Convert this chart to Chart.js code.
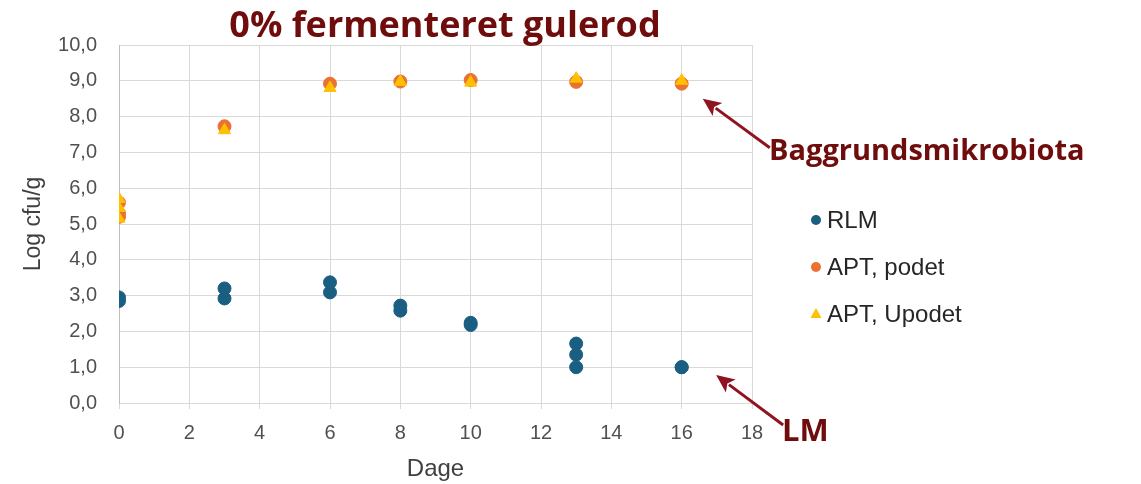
<!DOCTYPE html>
<html>
<head>
<meta charset="utf-8">
<script src="https://cdn.jsdelivr.net/npm/chart.js@4"></script>
<style>
  html, body { margin: 0; padding: 0; background: #fff; }
  #wrap { width: 1141px; height: 484px; }
</style>
</head>
<body>
<div id="wrap"><canvas id="chart" width="1141" height="484"></canvas></div>
<script>
// data (day, log cfu/g)
const rlmDays = [0, 0, 3, 3, 6, 6, 8, 8, 10, 10, 13, 13, 13, 16, 16]
const rlmValues = [2.95, 2.85, 3.2, 2.92, 3.37, 3.09, 2.72, 2.58, 2.24, 2.18, 1.66, 1.35, 1.0, 1.0, 1.0]

const podetDays = [0, 0, 0, 3, 6, 8, 10, 13, 16]
const podetValues = [5.6, 5.3, 5.2, 7.73, 8.92, 8.98, 9.02, 8.97, 8.92]

const upodetDays = [0, 0, 0, 3, 6, 8, 10, 13, 16]
const upodetValues = [5.7, 5.45, 5.15, 7.62, 8.8, 8.97, 8.95, 9.06, 9.0]

const seriesLabels = ["RLM", "APT, podet", "APT, Upodet"]
const xTicks = [0, 2, 4, 6, 8, 10, 12, 14, 16, 18]
const yTicks = [0, 1, 2, 3, 4, 5, 6, 7, 8, 9, 10]

const titleText = "0% fermenteret gulerod"
const darkRed = "#6f0c0c"
const arrowRed = "#8e1420"
const tickColor = "#505050"
const gridColor = "#d9d9d9"
const fontFam = '"Liberation Sans", Arial, sans-serif'

function pts(xs, ys) {
    return xs.map((x, i) => ({x: x, y: ys[i]}))
}

// title, legend and arrows drawn on the canvas
const extras = {
    id: 'extras',
    afterDraw(chart) {
        const ctx = chart.ctx
        const xs = chart.scales.x
        const ys = chart.scales.y
        ctx.save()

        ctx.fillStyle = darkRed
        ctx.textAlign = 'center'
        ctx.textBaseline = 'middle'
        ctx.font = 'bold 36px "Open Sans", "Noto Sans", sans-serif'
        ctx.fillText(titleText, 445, 27)

        // legend
        ctx.textAlign = 'left'
        ctx.font = '24px ' + fontFam
        const legendY = [220, 267, 314]
        chart.data.datasets.forEach((ds, i) => {
            const cx = 816, cy = legendY[i]
            ctx.fillStyle = ds.backgroundColor
            ctx.beginPath()
            if (ds.pointStyle === 'triangle') {
                ctx.moveTo(cx, cy - 6)
                ctx.lineTo(cx + 5.5, cy + 4)
                ctx.lineTo(cx - 5.5, cy + 4)
                ctx.closePath()
            } else {
                ctx.arc(cx, cy, 5, 0, Math.PI * 2)
            }
            ctx.fill()
            ctx.fillStyle = '#262626'
            ctx.fillText(ds.label, 827, cy + 1)
        })

        // annotation arrows
        function arrow(x1, y1, x2, y2) {
            const a = Math.atan2(y2 - y1, x2 - x1)
            const len = 20, w = 0.42
            ctx.strokeStyle = arrowRed
            ctx.fillStyle = arrowRed
            ctx.lineWidth = 3
            ctx.beginPath()
            ctx.moveTo(x1, y1)
            ctx.lineTo(x2 - Math.cos(a) * len * 0.8, y2 - Math.sin(a) * len * 0.8)
            ctx.stroke()
            ctx.beginPath()
            ctx.moveTo(x2, y2)
            ctx.lineTo(x2 - len * Math.cos(a - w), y2 - len * Math.sin(a - w))
            ctx.lineTo(x2 - len * 0.7 * Math.cos(a), y2 - len * 0.7 * Math.sin(a))
            ctx.lineTo(x2 - len * Math.cos(a + w), y2 - len * Math.sin(a + w))
            ctx.closePath()
            ctx.fill()
        }
        const tip1x = xs.getPixelForValue(16.6), tip1y = ys.getPixelForValue(8.5)
        arrow(tip1x + 67, tip1y + 49, tip1x, tip1y)
        const tip2x = xs.getPixelForValue(16.98), tip2y = ys.getPixelForValue(0.78)
        arrow(tip2x + 67, tip2y + 50, tip2x, tip2y)

        ctx.fillStyle = darkRed
        ctx.font = 'bold 29px "Open Sans", "Noto Sans", sans-serif'
        ctx.textAlign = 'left'
        ctx.fillText("Baggrundsmikrobiota", 769, 152)
        ctx.font = 'bold 31px "Open Sans", "Noto Sans", sans-serif'
        ctx.fillText("LM", 782, 432)
        ctx.restore()
    }
}

function setupChart() {
    const ctx = document.getElementById('chart').getContext('2d')
    new Chart(ctx, {
        type: 'scatter',
        data: {
            datasets: [{
                label: seriesLabels[0],
                data: pts(rlmDays, rlmValues),
                backgroundColor: '#1a5e82',
                borderColor: '#1a5e82',
                pointStyle: 'circle',
                pointRadius: 6.5,
                order: 2
            }, {
                label: seriesLabels[1],
                data: pts(podetDays, podetValues),
                backgroundColor: '#e97132',
                borderColor: '#e97132',
                pointStyle: 'circle',
                pointRadius: 6.5,
                order: 1
            }, {
                label: seriesLabels[2],
                data: pts(upodetDays, upodetValues),
                backgroundColor: '#ffc000',
                borderColor: '#ffc000',
                pointStyle: 'triangle',
                pointRadius: 7,
                order: 0
            }]
        },
        options: {
            responsive: false,
            animation: false,
            layout: {padding: {top: 45, right: 389, bottom: 0, left: 20}},
            plugins: {
                legend: {display: false},
                tooltip: {enabled: false}
            },
            scales: {
                x: {
                    type: 'linear',
                    min: 0,
                    max: 18,
                    afterBuildTicks: (s) => { s.ticks = xTicks.map(v => ({value: v})) },
                    afterFit: (s) => { s.height = 81 },
                    grid: {color: gridColor, tickLength: 6, tickColor: gridColor},
                    border: {color: gridColor},
                    ticks: {
                        color: tickColor,
                        padding: 12,
                        font: {family: fontFam, size: 20}
                    },
                    title: {
                        display: true,
                        text: 'Dage',
                        color: '#404040',
                        padding: 0,
                        font: {family: fontFam, size: 24}
                    }
                },
                y: {
                    min: 0,
                    max: 10,
                    afterBuildTicks: (s) => { s.ticks = yTicks.map(v => ({value: v})) },
                    afterFit: (s) => { s.width = 99 },
                    grid: {color: gridColor, drawTicks: false},
                    border: {color: '#bfbfbf'},
                    ticks: {
                        color: tickColor,
                        padding: 22,
                        font: {family: fontFam, size: 20},
                        callback: (v) => v.toFixed(1).replace('.', ',')
                    },
                    title: {
                        display: true,
                        text: 'Log cfu/g',
                        color: '#404040',
                        padding: 0,
                        font: {family: fontFam, size: 23}
                    }
                }
            }
        },
        plugins: [extras]
    })
}

setupChart()
</script>
</body>
</html>
